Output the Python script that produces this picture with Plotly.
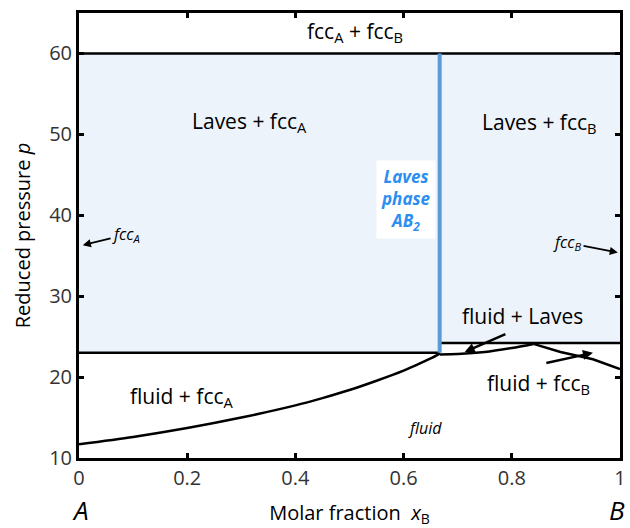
import plotly.graph_objects as go

# Phase boundaries of the A–B binary system (reduced pressure vs molar fraction of B)
laves_x = 2 / 3                      # stoichiometric Laves phase AB2
p_top = 60.0                         # fccA + fccB / Laves boundary
p_left = 23.0                        # fluid + fccA / Laves + fccA boundary
p_right = 24.2                       # fluid + Laves / Laves + fccB boundary

liq_a_x = [0.0, 0.1, 0.2, 0.3, 0.4, 0.45, 0.5, 0.55, 0.6, 0.65, 0.667]
liq_a_p = [11.7, 12.6, 13.7, 15.0, 16.5, 17.4, 18.4, 19.55, 20.8, 22.3, 22.9]

liq_l_x = [0.667, 0.7, 0.75, 0.8, 0.84]
liq_l_p = [22.8, 22.85, 23.1, 23.6, 24.1]

liq_b_x = [0.84, 0.89, 0.95, 1.0]
liq_b_p = [24.1, 23.1, 22.2, 21.0]

x_ticks = [0, 0.2, 0.4, 0.6, 0.8, 1]
x_tick_text = ["0", "0.2", "0.4", "0.6", "0.8", "1"]
y_ticks = [10, 20, 30, 40, 50, 60]

FILL = "#ecf3fa"
LAVES_BLUE = "#5b9bd5"
LABEL_BLUE = "#2b8ef0"
FONT = "Open Sans"

fig = go.Figure()

# shaded solid region (Laves + fcc)
fig.add_trace(go.Scatter(
    x=[0, laves_x, laves_x, 1, 1, 0, 0],
    y=[p_left, p_left, p_right, p_right, p_top, p_top, p_left],
    fill="toself", fillcolor=FILL, mode="none", hoverinfo="skip"))

line_style = dict(color="black", width=2.5)
fig.add_trace(go.Scatter(x=[0, 1], y=[p_top, p_top], mode="lines", line=line_style))
fig.add_trace(go.Scatter(x=[0, laves_x], y=[p_left, p_left], mode="lines", line=line_style))
fig.add_trace(go.Scatter(x=[laves_x, 1], y=[p_right, p_right], mode="lines", line=line_style))
fig.add_trace(go.Scatter(x=liq_a_x, y=liq_a_p, mode="lines",
                         line=dict(color="black", width=2.5, shape="spline", smoothing=0.8)))
fig.add_trace(go.Scatter(x=liq_l_x, y=liq_l_p, mode="lines",
                         line=dict(color="black", width=2.5, shape="spline", smoothing=0.8)))
fig.add_trace(go.Scatter(x=liq_b_x, y=liq_b_p, mode="lines", line=dict(color="black", width=2.5)))
fig.add_trace(go.Scatter(x=[laves_x, laves_x], y=[p_left, p_top], mode="lines",
                         line=dict(color=LAVES_BLUE, width=4)))

def label(x, y, text, size=21, **kw):
    fig.add_annotation(x=x, y=y, text=text, showarrow=False,
                       font=dict(family=FONT, size=size, color=kw.pop("color", "black")), **kw)

def arrow(x, y, ax, ay, width=2.5, size=0.8):
    fig.add_annotation(x=x, y=y, ax=ax, ay=ay, axref="x", ayref="y", text="",
                       showarrow=True, arrowhead=2, arrowsize=size, arrowwidth=width,
                       arrowcolor="black", standoff=0)

label(0.51, 62.6, "fcc<sub>A</sub> + fcc<sub>B</sub>")
label(0.315, 51.5, "Laves + fcc<sub>A</sub>")
label(0.852, 51.4, "Laves + fcc<sub>B</sub>")
label(0.604, 42.0, "<b><i>Laves<br>phase<br>AB<sub>2</sub></i></b>", size=17, color=LABEL_BLUE,
      bgcolor="white", borderpad=4)
label(0.82, 27.6, "fluid + Laves")
label(0.19, 17.5, "fluid + fcc<sub>A</sub>")
label(0.85, 19.2, "fluid + fcc<sub>B</sub>")
label(0.64, 13.7, "<i>fluid</i>", size=16)

# pure-component labels with pointers to the axes
fig.add_annotation(x=0.007, y=36.3, ax=0.087, ay=37.6, axref="x", ayref="y",
                   text="<i>fcc<sub>A</sub></i>", font=dict(family=FONT, size=16, color="black"),
                   showarrow=True, arrowhead=2, arrowsize=0.9, arrowwidth=1.8,
                   arrowcolor="black", standoff=0)
fig.add_annotation(x=0.996, y=35.4, ax=0.903, ay=36.6, axref="x", ayref="y",
                   text="<i>fcc<sub>B</sub></i>", font=dict(family=FONT, size=16, color="black"),
                   showarrow=True, arrowhead=2, arrowsize=0.9, arrowwidth=1.8,
                   arrowcolor="black", standoff=0)

arrow(0.713, 23.1, 0.791, 25.4)
arrow(0.95, 23.0, 0.861, 21.7)

# end-member names under the axis
label(0.002, -0.117, "<i>A</i>", size=26, xref="paper", yref="paper",
      xanchor="center", yanchor="middle", borderpad=0)
label(0.994, -0.117, "<i>B</i>", size=26, xref="paper", yref="paper",
      xanchor="center", yanchor="middle", borderpad=0)

axis_common = dict(showline=True, linewidth=3, linecolor="black", mirror="allticks",
                   ticks="inside", ticklen=5, tickwidth=3, tickcolor="black",
                   showgrid=False, zeroline=False, automargin=False,
                   tickfont=dict(family=FONT, size=20, color="#333333"))

fig.update_xaxes(range=[0, 1], tickvals=x_ticks, ticktext=x_tick_text,
                 title=dict(text="Molar fraction  <i>x</i><sub>B</sub>", standoff=16,
                            font=dict(family=FONT, size=20, color="black")),
                 **axis_common)
fig.update_yaxes(range=[10, 65], tickvals=y_ticks,
                 title=dict(text="Reduced pressure <i>p</i>", standoff=14,
                            font=dict(family=FONT, size=20, color="black")),
                 **axis_common)

fig.update_layout(width=630, height=528, showlegend=False,
                  margin=dict(l=79, r=10, t=13, b=70),
                  plot_bgcolor="white", paper_bgcolor="white")

fig.write_html("out.html")
